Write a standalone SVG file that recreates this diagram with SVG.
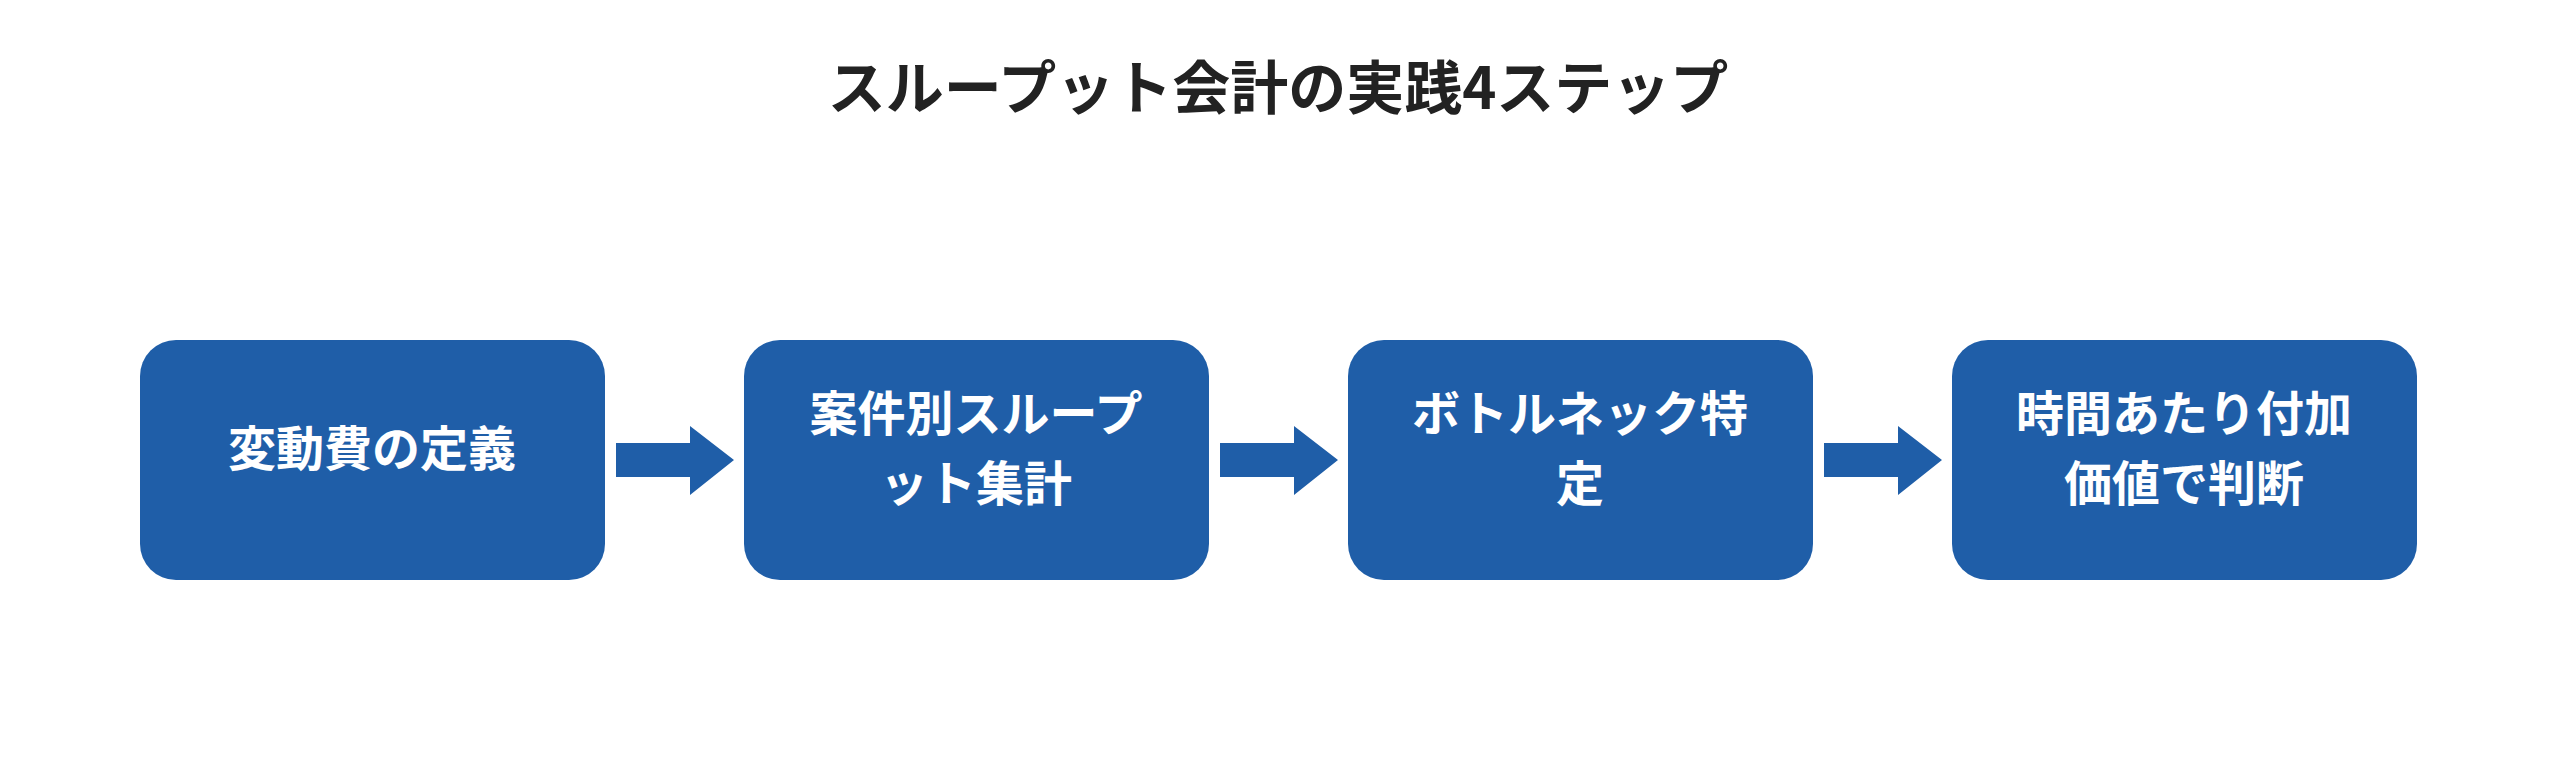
<svg xmlns="http://www.w3.org/2000/svg" width="2556" height="760" viewBox="0 0 2556 760">
<style>
.box{fill:#1f5ea8}
.t{font-family:"Noto Sans CJK JP","Noto Sans",sans-serif;font-weight:bold;font-size:48px;fill:#fff;text-anchor:middle;dominant-baseline:central}
.title{font-family:"Noto Sans CJK JP","Noto Sans",sans-serif;font-weight:bold;font-size:58px;fill:#222;text-anchor:middle;dominant-baseline:central}
.arr{fill:#1f5ea8}
</style>
<rect width="2556" height="760" fill="#fff"/>
<text class="title" x="1278" y="84">スループット会計の実践4ステップ</text>
<g id="connectors">
<polygon class="arr" points="616,443 690,443 690,426 734,460 690,495 690,477 616,477"/>
<polygon class="arr" points="1220,443 1294,443 1294,426 1338,460 1294,495 1294,477 1220,477"/>
<polygon class="arr" points="1824,443 1898,443 1898,426 1942,460 1898,495 1898,477 1824,477"/>
</g>
<g id="n1"><rect class="box" x="140" y="340" width="465" height="240" rx="36"/><text class="t" x="372" y="445">変動費の定義</text></g>
<g id="n2"><rect class="box" x="744" y="340" width="465" height="240" rx="36"/><text class="t" x="976" y="410">案件別スループ</text><text class="t" x="976" y="480">ット集計</text></g>
<g id="n3"><rect class="box" x="1348" y="340" width="465" height="240" rx="36"/><text class="t" x="1580" y="410">ボトルネック特</text><text class="t" x="1580" y="480">定</text></g>
<g id="n4"><rect class="box" x="1952" y="340" width="465" height="240" rx="36"/><text class="t" x="2184" y="410">時間あたり付加</text><text class="t" x="2184" y="480">価値で判断</text></g>
</svg>
